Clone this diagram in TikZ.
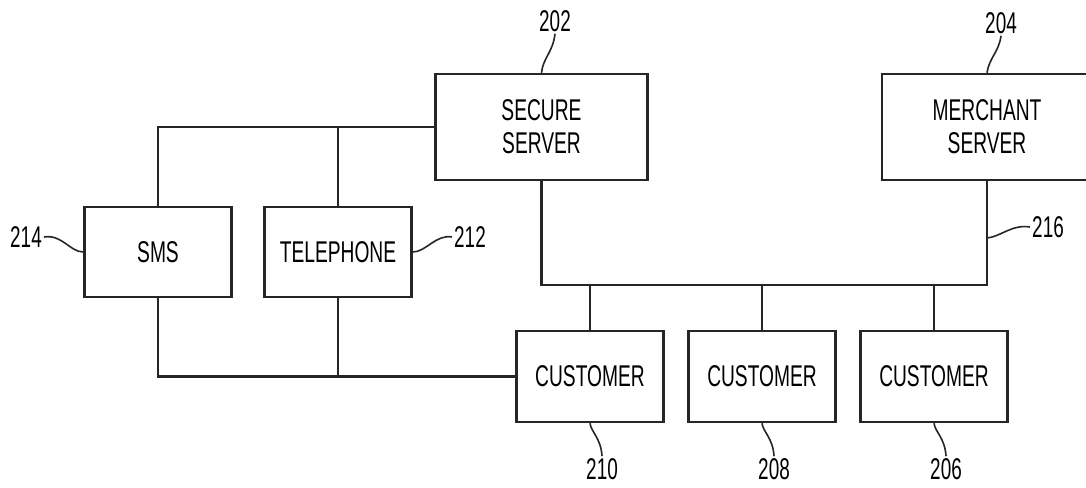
\documentclass[tikz,border=0pt]{standalone}
\usepackage{fontspec}
\newfontfamily\boxfont[FakeStretch=0.64]{Liberation Sans}
\newfontfamily\numfont[FakeStretch=0.63]{Liberation Sans}
\begin{document}
\begin{tikzpicture}[x=1pt,y=-1pt,
  ln/.style={line width=2.4pt,draw=black!85},
  lead/.style={line width=1.6pt,draw=black!85},
  blk/.style={ln,rectangle,inner sep=0pt,align=center,
    font=\boxfont\fontsize{30}{33}\selectfont},
  small/.style={blk,minimum width=147pt,minimum height=90pt},
  big/.style={blk,minimum width=212pt,minimum height=106pt},
  lbl/.style={inner sep=2pt,font=\numfont\fontsize{30}{30}\selectfont}]
\useasboundingbox (0,0) rectangle (1086,487);
% boxes
\node[big] (secure) at (541.5,127) {SECURE\\SERVER};
\node[big,minimum width=210pt] (merchant) at (987,127) {MERCHANT\\SERVER};
\node[small] (sms) at (158,252) {SMS};
\node[small] (tel) at (338,252) {TELEPHONE};
\node[small,minimum height=91pt] (c1) at (590,376.5) {CUSTOMER};
\node[small,minimum height=91pt] (c2) at (762,376.5) {CUSTOMER};
\node[small,minimum height=91pt] (c3) at (934,376.5) {CUSTOMER};
% bus coordinates
\coordinate (t1) at (158,127);
\coordinate (u1) at (158,376.5);
\coordinate (b1) at (541.5,285);
\coordinate (b2) at (987,285);
\coordinate (c216) at (987,238);
% connectors
\draw[ln] (secure.west) -- (t1) -- (sms.north);
\draw[ln] (tel.north) -- (tel.north |- t1);
\draw[ln] (c1.west) -- (u1) -- (sms.south);
\draw[ln] (tel.south) -- (tel.south |- u1);
\draw[ln] (secure.south) -- (b1) -- (b2) -- (merchant.south);
\draw[ln] (c1.north) -- (c1.north |- b1);
\draw[ln] (c2.north) -- (c2.north |- b1);
\draw[ln] (c3.north) -- (c3.north |- b1);
% labels
\node[lbl] (n202) at (555,21) {202};
\node[lbl] (n204) at (1001,23) {204};
\node[lbl] (n216) at (1048,227) {216};
\node[lbl] (n214) at (26,237) {214};
\node[lbl] (n212) at (470,237) {212};
\node[lbl] (n210) at (602,469) {210};
\node[lbl] (n208) at (774,469) {208};
\node[lbl] (n206) at (946,469) {206};
% leaders
\draw[lead] (n202.south) .. controls (553,52) and (543,58) .. (secure.north);
\draw[lead] (n204.south) .. controls (999,52) and (989,58) .. (merchant.north);
\draw[lead] (n216.west) .. controls (1012,224) and (1000,237) .. (c216);
\draw[lead] (n214.east) .. controls (62,234) and (70,252) .. (sms.west);
\draw[lead] (n212.west) .. controls (436,234) and (426,252) .. (tel.east);
\draw[lead] (c1.south) .. controls (591,432) and (601,438) .. (n210.north);
\draw[lead] (c2.south) .. controls (763,432) and (773,438) .. (n208.north);
\draw[lead] (c3.south) .. controls (935,432) and (945,438) .. (n206.north);
\end{tikzpicture}
\end{document}
